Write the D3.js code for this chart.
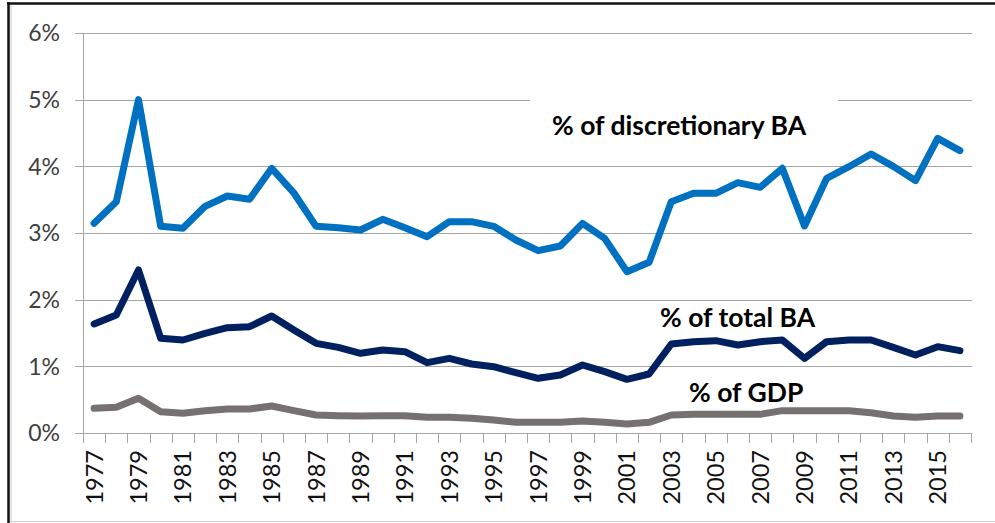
<html>
<head>
<style>
  body { margin: 0; background: #fff; }
  text { font-family: Lato, "Open Sans", sans-serif; }
  .grid line { stroke: #a6a6a6; stroke-width: 1px; }
  .lbl { font-weight: bold; fill: #000; }
</style>
</head>
<body>
<svg width="995" height="523"></svg>
<script src="https://cdn.jsdelivr.net/npm/d3@7"></script>
<script>

var years = d3.range(1977, 2017);

var discretionary = [3.145,3.47,5.0,3.10,3.07,3.40,3.555,3.505,3.97,3.60,
                     3.10,3.08,3.045,3.205,3.08,2.945,3.17,3.17,3.10,2.895,
                     2.735,2.805,3.145,2.92,2.42,2.56,3.47,3.595,3.595,3.755,
                     3.685,3.97,3.105,3.82,3.995,4.185,4.0,3.785,4.42,4.235];

var totalBA = [1.635,1.77,2.445,1.42,1.395,1.495,1.58,1.595,1.755,1.545,
               1.345,1.285,1.195,1.245,1.22,1.055,1.12,1.035,0.995,0.905,
               0.82,0.87,1.02,0.92,0.805,0.885,1.335,1.37,1.385,1.32,
               1.37,1.395,1.12,1.37,1.395,1.395,1.285,1.17,1.295,1.235];

var gdp = [0.37,0.385,0.52,0.32,0.295,0.335,0.36,0.36,0.405,0.335,
           0.27,0.26,0.255,0.26,0.26,0.235,0.235,0.22,0.195,0.16,
           0.16,0.16,0.18,0.16,0.135,0.16,0.27,0.28,0.28,0.28,
           0.28,0.335,0.335,0.335,0.335,0.305,0.255,0.235,0.255,0.255];

var yTicks = [0, 1, 2, 3, 4, 5, 6];

var svg = d3.select("svg");

// frame
svg.append("line").attr("x1", 11).attr("x2", 11).attr("y1", 5).attr("y2", 523)
    .attr("stroke", "#c8c8c8").attr("stroke-width", 1);
svg.append("line").attr("x1", 11).attr("x2", 995).attr("y1", 521.5).attr("y2", 521.5)
    .attr("stroke", "#d0d0d0").attr("stroke-width", 1);
svg.append("line").attr("x1", 7).attr("x2", 995).attr("y1", 3.5).attr("y2", 3.5)
    .attr("stroke", "#111").attr("stroke-width", 2.5);
svg.append("line").attr("x1", 8.5).attr("x2", 8.5).attr("y1", 2).attr("y2", 523)
    .attr("stroke", "#111").attr("stroke-width", 2.5);

var plotL = 83, plotR = 971, plotT = 33, plotB = 433;

var x = d3.scaleBand().domain(years).range([plotL, plotR]);
var y = d3.scaleLinear().domain([0, 6]).range([plotB, plotT]);

// gridlines
svg.append("g").attr("class", "grid")
  .selectAll("line").data(yTicks).join("line")
    .attr("x1", plotL - 8).attr("x2", plotR + 1)
    .attr("y1", function(d) { return Math.round(y(d)) + 0.5; })
    .attr("y2", function(d) { return Math.round(y(d)) + 0.5; });

// y axis line
svg.append("line").attr("x1", plotL + 0.5).attr("x2", plotL + 0.5)
    .attr("y1", plotT).attr("y2", plotB)
    .attr("stroke", "#a6a6a6");

// y labels
svg.append("g").selectAll("text").data(yTicks).join("text")
    .attr("x", 60).attr("y", function(d) { return y(d); })
    .attr("dy", "0.36em")
    .attr("text-anchor", "end")
    .attr("font-size", 23)
    .attr("fill", "#404040")
    .text(function(d) { return d + "%"; });

// x ticks at category boundaries
var bounds = years.map(function(d) { return x(d); }).concat([plotR]);
svg.append("g").selectAll("line").data(bounds).join("line")
    .attr("x1", function(d) { return Math.round(d) + 0.5; })
    .attr("x2", function(d) { return Math.round(d) + 0.5; })
    .attr("y1", plotB).attr("y2", plotB + 10)
    .attr("stroke", "#a6a6a6");

// x labels, every other year
svg.append("g").selectAll("text")
  .data(years.filter(function(d, i) { return i % 2 === 0; }))
  .join("text")
    .attr("transform", function(d) {
      return "translate(" + (x(d) + x.bandwidth() / 2) + "," + 450 + ") rotate(-90)";
    })
    .attr("dy", "0.36em")
    .attr("text-anchor", "end")
    .attr("font-size", 23.5)
    .attr("fill", "#111")
    .text(function(d) { return d; });

// white box behind top label
svg.append("rect").attr("x", 530).attr("y", 95).attr("width", 308).attr("height", 58)
    .attr("fill", "#fff");

var line = d3.line()
    .x(function(d, i) { return x(years[i]) + x.bandwidth() / 2; })
    .y(function(d) { return y(d); });

var series = [
  { values: gdp, color: "#767171" },
  { values: totalBA, color: "#002060" },
  { values: discretionary, color: "#0070c0" }
];

svg.append("g").selectAll("path").data(series).join("path")
    .attr("d", function(d) { return line(d.values); })
    .attr("fill", "none")
    .attr("stroke", function(d) { return d.color; })
    .attr("stroke-width", 7)
    .attr("stroke-linejoin", "round")
    .attr("stroke-linecap", "round");

// labels
svg.append("text").attr("class", "lbl").attr("x", 552).attr("y", 135)
    .attr("font-size", 26.5).text("% of discretionary BA");
svg.append("text").attr("class", "lbl").attr("x", 660).attr("y", 327)
    .attr("font-size", 26.5).text("% of total BA");
svg.append("text").attr("class", "lbl").attr("x", 689).attr("y", 402)
    .attr("font-size", 26.5).text("% of GDP");

</script>
</body>
</html>
